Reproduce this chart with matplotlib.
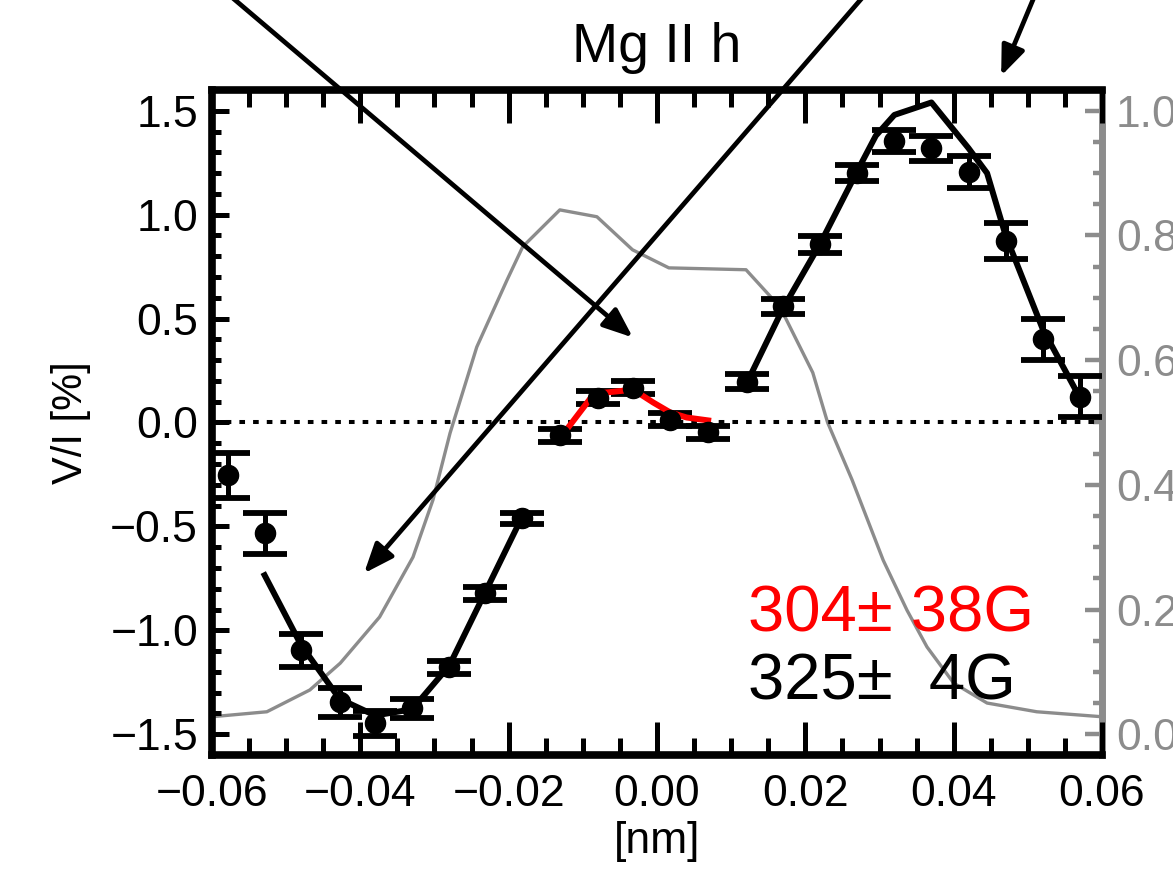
import numpy as np
import matplotlib
matplotlib.use("Agg")
import matplotlib.pyplot as plt
from matplotlib.ticker import MultipleLocator, FuncFormatter

plt.rcParams['font.family'] = ['Liberation Sans', 'DejaVu Sans']

# observed V/I with errors
x_obs = [-0.0578, -0.0529, -0.0480, -0.0428, -0.0380, -0.0330, -0.0280, -0.0232,
         -0.0182, -0.0131, -0.0080, -0.0032, 0.0018, 0.0069, 0.0121, 0.0170,
         0.0220, 0.0270, 0.0320, 0.0370, 0.0420, 0.0470, 0.0520, 0.0570]
vi_obs = [-0.255, -0.534, -1.096, -1.346, -1.447, -1.375, -1.178, -0.822,
          -0.462, -0.062, 0.120, 0.168, 0.014, -0.048, 0.197, 0.560,
          0.858, 1.200, 1.355, 1.320, 1.205, 0.875, 0.400, 0.125]
vi_err = [0.11, 0.10, 0.08, 0.07, 0.06, 0.045, 0.03, 0.03,
          0.025, 0.03, 0.03, 0.03, 0.03, 0.03, 0.036, 0.036,
          0.04, 0.04, 0.053, 0.06, 0.077, 0.087, 0.10, 0.10]

# wing fits (black)
x_fit_blue = [-0.0529, -0.0480, -0.0428, -0.0380, -0.0330, -0.0280, -0.0232, -0.0182]
vi_fit_blue = [-0.735, -1.07, -1.33, -1.41, -1.38, -1.17, -0.82, -0.455]
x_fit_red = [0.0121, 0.0170, 0.0220, 0.0270, 0.0295, 0.0320, 0.0370, 0.0395,
             0.0420, 0.0445, 0.0470, 0.0520, 0.0570]
vi_fit_red = [0.19, 0.55, 0.86, 1.21, 1.38, 1.48, 1.54, 1.43,
              1.32, 1.20, 0.90, 0.45, 0.12]

# core fit (red)
x_core = [-0.0131, -0.0090, -0.0080, -0.0032, -0.0005, 0.0018, 0.0040, 0.0069]
vi_core = [-0.077, 0.115, 0.14, 0.158, 0.096, 0.048, 0.024, 0.010]

# intensity profile (right axis)
x_int = [-0.0600, -0.0526, -0.0468, -0.0427, -0.0374, -0.0329, -0.0302, -0.0279,
         -0.0243, -0.0202, -0.0181, -0.0131, -0.0081, -0.0033, 0.0016, 0.0120,
         0.0166, 0.0210, 0.0230, 0.0263, 0.0305, 0.0337, 0.0364, 0.0400,
         0.0445, 0.0512, 0.0600]
int_prof = [0.028, 0.036, 0.071, 0.114, 0.188, 0.284, 0.376, 0.483,
            0.621, 0.729, 0.782, 0.841, 0.830, 0.777, 0.748, 0.745,
            0.685, 0.580, 0.500, 0.408, 0.279, 0.199, 0.140, 0.082,
            0.050, 0.036, 0.028]

x_ticks = [-0.06, -0.04, -0.02, 0.0, 0.02, 0.04, 0.06]
y_ticks = [-1.5, -1.0, -0.5, 0.0, 0.5, 1.0, 1.5]
y2_ticks = [0.0, 0.2, 0.4, 0.6, 0.8, 1.0]

gray = '#8c8c8c'

fig = plt.figure(figsize=(11.73, 8.73), dpi=100)
ax = fig.add_axes([0.1807, 0.1352, 0.7588, 0.7617])
ax2 = ax.twinx()
ax.set_zorder(ax2.get_zorder() + 1)
ax.patch.set_visible(False)

ax2.plot(x_int, int_prof, color=gray, lw=2.4)
ax2.set_ylim(-0.0333, 1.0333)

ax.axhline(0, color='k', ls=(0, (1.4, 2.0)), lw=2.9)
ax.plot(x_fit_blue, vi_fit_blue, color='k', lw=4.3)
ax.plot(x_fit_red, vi_fit_red, color='k', lw=4.3)
ax.errorbar(x_obs, vi_obs, yerr=vi_err, fmt='o', color='k', ms=14.5,
            elinewidth=3.6, capsize=15.5, capthick=4.2)
ax.plot(x_core, vi_core, color='red', lw=4.3)

ax.set_xlim(-0.06, 0.06)
ax.set_ylim(-1.6, 1.6)

def minus(fmt):
    return FuncFormatter(lambda v, p: (fmt % v).replace('-', '\u2212'))

ax.set_xticks(x_ticks)
ax.xaxis.set_minor_locator(MultipleLocator(0.005))
ax.xaxis.set_major_formatter(minus('%.2f'))
ax.set_yticks(y_ticks)
ax.yaxis.set_minor_locator(MultipleLocator(0.1))
ax.yaxis.set_major_formatter(minus('%.1f'))

ax.tick_params(axis='x', which='major', direction='in', length=24, width=3.6,
               top=True, bottom=True, labelsize=32, pad=14)
ax.tick_params(axis='x', which='minor', direction='in', length=12, width=3.6,
               top=True, bottom=True)
ax.tick_params(axis='y', which='major', direction='in', length=12, width=3.6,
               left=True, right=False, labelsize=32, pad=10)
ax.tick_params(axis='y', which='minor', direction='in', length=6.5, width=3.6,
               left=True, right=False)

ax2.set_yticks(y2_ticks)
ax2.yaxis.set_minor_locator(MultipleLocator(0.05))
ax2.yaxis.set_major_formatter(minus('%.1f'))
ax2.tick_params(axis='y', which='major', direction='in', length=12, width=3.2,
                color=gray, labelcolor=gray, labelsize=32, pad=10)
ax2.tick_params(axis='y', which='minor', direction='in', length=6.5, width=3.2,
                color=gray)

for s in ['top', 'bottom', 'left']:
    ax.spines[s].set_linewidth(5.5)
ax.spines['right'].set_visible(False)
for s in ['top', 'bottom', 'left']:
    ax2.spines[s].set_visible(False)
ax2.spines['right'].set_color(gray)
ax2.spines['right'].set_linewidth(5)

ax.set_title('Mg II h', fontsize=40, pad=20)
ax.set_xlabel('[nm]', fontsize=32, labelpad=4)
ax.set_ylabel('V/I [%]', fontsize=30, labelpad=14)

ax.text(0.602, 0.185, '304\u00b1 38G', color='red', fontsize=47,
        transform=ax.transAxes, va='baseline')
ax.text(0.602, 0.083, '325\u00b1  4G', color='k', fontsize=47,
        transform=ax.transAxes, va='baseline')

# arrows coming in from above the panel
tips = [(-0.00325, 0.409), (-0.0395, -0.726), (0.0464, 1.668)]
tails = [(0.1833, 1.0195), (0.746, 1.0195), (0.8866, 1.0195)]
for tip, tail in zip(tips, tails):
    ax.annotate('', xy=tip, xycoords='data', xytext=tail, textcoords='figure fraction',
                arrowprops=dict(arrowstyle='-|>,head_length=0.45,head_width=0.18',
                                mutation_scale=40, lw=3.4, color='k',
                                shrinkA=0, shrinkB=0),
                annotation_clip=False, zorder=10)

fig.savefig('out.png', dpi=100)
